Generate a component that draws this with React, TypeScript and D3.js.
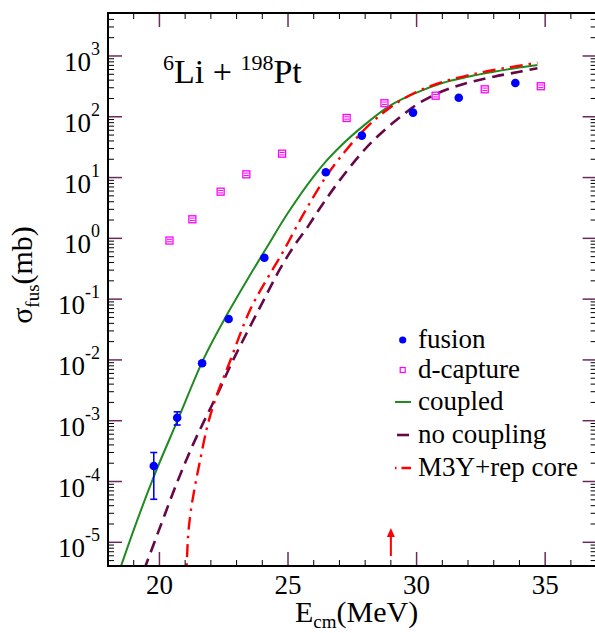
import React from 'react';
import * as d3 from 'd3';

// measured fusion data (E_cm in MeV, sigma in mb)
const fusionE = [19.78, 20.69, 21.66, 22.69, 24.08, 26.47, 27.87, 29.86, 31.64, 33.84];
const fusionSigma = [1.8e-4, 1.12e-3, 8.8e-3, 0.047, 0.48, 12.2, 49, 117, 206, 360];
const fusionErrLo = [5.1e-5, 8.5e-4, 8.2e-3, 0.044, 0.45, 11.6, 47, 112, 198, 348];
const fusionErrHi = [3.0e-4, 1.4e-3, 9.4e-3, 0.05, 0.51, 12.8, 51, 122, 214, 372];

// d-capture data
const dcapE = [20.39, 21.28, 22.38, 23.38, 24.77, 27.28, 28.75, 30.74, 32.65, 34.83];
const dcapSigma = [0.92, 2.06, 5.86, 11.3, 24.7, 95.5, 167, 222, 283, 318];

// calculations
const coupledE = [18.4, 19.0, 19.8, 20.7, 21.7, 22.7, 23.5, 24.1, 25.0, 26.0, 26.5, 27.0, 28.0, 29.0, 30.0, 31.0, 32.0, 33.0, 34.0, 34.7];
const coupledSigma = [3.0e-6, 1.6e-5, 1.26e-4, 1.0e-3, 1.0e-2, 6.3e-2, 0.24, 0.63, 2.63, 10.5, 19, 31.6, 75, 155, 250, 360, 455, 550, 645, 710];

const noCouplingE = [19.4, 20.0, 20.7, 21.3, 21.8, 22.3, 22.7, 23.4, 24.0, 24.7, 25.2, 25.8, 26.2, 27.0, 27.5, 28.0, 28.8, 29.5, 30.0, 30.5, 31.0, 32.0, 33.0, 34.0, 34.7];
const noCouplingSigma = [3.5e-6, 1.66e-5, 1.0e-4, 4.0e-4, 1.12e-3, 3.0e-3, 7.1e-3, 2.8e-2, 8.7e-2, 0.32, 0.71, 1.62, 2.95, 8.9, 16.6, 29.5, 63, 110, 158, 209, 263, 363, 457, 550, 630];

const m3yE = [21.03, 21.1, 21.2, 21.33, 21.57, 21.83, 22.2, 22.7, 23.5, 24.2, 24.7, 25.6, 26.5, 27.2, 27.9, 29.0, 30.0, 31.0, 32.0, 33.0, 34.0, 34.7];
const m3ySigma = [2.0e-6, 1.0e-5, 2.8e-5, 6.3e-5, 2.1e-4, 7.1e-4, 2.4e-3, 8.5e-3, 6.3e-2, 0.22, 0.5, 2.5, 10.7, 26.3, 57.5, 145, 257, 372, 479, 589, 692, 776];

const xMajor = [20, 25, 30, 35];
const xMinor = d3.range(18, 38, 1).filter(v => !xMajor.includes(v));
const yExponents = [-5, -4, -3, -2, -1, 0, 1, 2, 3];
const arrowE = 29;

const legendItems = ['fusion', 'd-capture', 'coupled', 'no coupling', 'M3Y+rep core'];

const W = 595, H = 633;
const left = 108, right = 596.6, top = 13, bottom = 566;
const serif = 'Liberation Serif, DejaVu Serif, serif';
const tickPurple = '#6b2a5c';
const green = '#1f8a1f';
const maroon = '#670748';

const App = () => {
  const x = d3.scaleLinear().domain([18, 37]).range([left, right]);
  const y = d3.scaleLog().domain([Math.pow(10, -5.39), Math.pow(10, 3.707)]).range([bottom, top]);

  const yMinor: number[] = [];
  for (let d = -6; d <= 3; d++) {
    for (let m = 2; m <= 9; m++) {
      const v = m * Math.pow(10, d);
      if (v > y.domain()[0] && v < y.domain()[1]) yMinor.push(v);
    }
  }

  const line = d3.line<[number, number]>()
    .x(d => x(d[0]))
    .y(d => y(d[1]))
    .curve(d3.curveMonotoneX);

  const zip = (a: number[], b: number[]) => a.map((v, i) => [v, b[i]] as [number, number]);

  const legendY = [340, 370, 402, 435, 468];

  return (
    <svg width={W} height={H} style={{ position: 'absolute', left: 0, top: 0, background: '#fff', fontFamily: serif }}>
      <defs>
        <clipPath id="plot">
          <rect x={left} y={top} width={right - left} height={bottom - top} />
        </clipPath>
      </defs>

      {/* curves */}
      <g clipPath="url(#plot)" fill="none">
        <path d={line(zip(coupledE, coupledSigma)) || ''} stroke={green} strokeWidth={2} />
        <path d={line(zip(noCouplingE, noCouplingSigma)) || ''} stroke={maroon} strokeWidth={2.6} strokeDasharray="12,7" />
        <path d={line(zip(m3yE, m3ySigma)) || ''} stroke="#ff0000" strokeWidth={2.4} strokeDasharray="13,6,2.5,6" />
      </g>

      {/* d-capture squares */}
      <g stroke="#ff00ff" strokeWidth={1.3} fill="none">
        {dcapE.map((e, i) => {
          const cx = x(e), cy = y(dcapSigma[i]);
          return (
            <g key={i}>
              <rect x={cx - 3.5} y={cy - 3.5} width={7} height={7} />
              <line x1={cx - 2.5} x2={cx + 2.5} y1={cy - 1.2} y2={cy - 1.2} strokeWidth={1} />
              <line x1={cx - 2.5} x2={cx + 2.5} y1={cy + 1.2} y2={cy + 1.2} strokeWidth={1} />
            </g>
          );
        })}
      </g>

      {/* fusion points with error bars */}
      <g>
        {fusionE.map((e, i) => {
          const cx = x(e);
          const lo = y(fusionErrLo[i]), hi = y(fusionErrHi[i]);
          return (
            <g key={i} stroke="#0000ff" strokeWidth={1.6}>
              <line x1={cx} x2={cx} y1={lo} y2={hi} />
              <line x1={cx - 3.5} x2={cx + 3.5} y1={lo} y2={lo} />
              <line x1={cx - 3.5} x2={cx + 3.5} y1={hi} y2={hi} />
              <circle cx={cx} cy={y(fusionSigma[i])} r={4.3} fill="#0000ff" stroke="none" />
            </g>
          );
        })}
      </g>

      {/* arrow */}
      <g stroke="#ff0000" fill="#ff0000">
        <line x1={x(arrowE)} x2={x(arrowE)} y1={556} y2={534} strokeWidth={2} />
        <polygon points={`${x(arrowE)},528 ${x(arrowE) - 4},537 ${x(arrowE) + 4},537`} stroke="none" />
      </g>

      {/* ticks */}
      <g>
        {xMajor.map(v => (
          <g key={'xM' + v} stroke={tickPurple} strokeWidth={1.5}>
            <line x1={x(v)} x2={x(v)} y1={bottom} y2={bottom - 14} />
            <line x1={x(v)} x2={x(v)} y1={top} y2={top + 14} />
          </g>
        ))}
        {xMinor.map(v => (
          <g key={'xm' + v} stroke="#000" strokeWidth={1}>
            <line x1={x(v)} x2={x(v)} y1={bottom} y2={bottom - 6} />
            <line x1={x(v)} x2={x(v)} y1={top} y2={top + 6} />
          </g>
        ))}
        {yExponents.map(p => (
          <g key={'yM' + p} stroke={tickPurple} strokeWidth={1.5}>
            <line x1={left} x2={left + 14} y1={y(Math.pow(10, p))} y2={y(Math.pow(10, p))} />
            <line x1={right} x2={right - 14} y1={y(Math.pow(10, p))} y2={y(Math.pow(10, p))} />
          </g>
        ))}
        {yMinor.map((v, i) => (
          <g key={'ym' + i} stroke="#000" strokeWidth={1}>
            <line x1={left} x2={left + 6} y1={y(v)} y2={y(v)} />
            <line x1={right} x2={right - 6} y1={y(v)} y2={y(v)} />
          </g>
        ))}
      </g>

      {/* frame */}
      <rect x={left} y={top} width={right - left} height={bottom - top} fill="none" stroke="#000" strokeWidth={2} />

      {/* tick labels */}
      <g fill="#000">
        {xMajor.map(v => (
          <text key={'xl' + v} x={x(v)} y={594} fontSize={27} textAnchor="middle">{v}</text>
        ))}
        {yExponents.map(p => (
          <text key={'yl' + p} x={100} y={y(Math.pow(10, p)) + 15} fontSize={27} textAnchor="end">
            10<tspan fontSize={18} dy={-16}>{p}</tspan>
          </text>
        ))}
      </g>

      {/* axis titles */}
      <text x={295} y={622} fontSize={30}>
        E<tspan fontSize={19} dy={6}>cm</tspan><tspan dy={-6}>(MeV)</tspan>
      </text>
      <text transform="translate(32,275) rotate(-90)" fontSize={30} textAnchor="middle">
        σ<tspan fontSize={19} dy={7}>fus</tspan><tspan dy={-7}>(mb)</tspan>
      </text>

      {/* reaction label */}
      <text x={163} y={83} fontSize={34} style={{ whiteSpace: 'pre' }}>
        <tspan fontSize={22} dy={-13}>6</tspan><tspan dy={13}>Li + </tspan><tspan fontSize={22} dy={-13}>198</tspan><tspan dy={13}>Pt</tspan>
      </text>

      {/* legend */}
      <g>
        <circle cx={402.7} cy={legendY[0]} r={3.6} fill="#0000ff" />
        <rect x={400.2} y={legendY[1] - 2.5} width={5} height={5} fill="none" stroke="#ff00ff" strokeWidth={1.2} />
        <line x1={395} x2={411} y1={legendY[2]} y2={legendY[2]} stroke={green} strokeWidth={2} />
        <line x1={397} x2={409} y1={legendY[3]} y2={legendY[3]} stroke={maroon} strokeWidth={2.6} />
        <line x1={395} x2={411} y1={legendY[4]} y2={legendY[4]} stroke="#ff0000" strokeWidth={2.4} strokeDasharray="1.5,5,13" />
        {legendItems.map((t, i) => (
          <text key={t} x={418} y={legendY[i] + 8} fontSize={27}>{t}</text>
        ))}
      </g>
    </svg>
  );
};

export default App;
